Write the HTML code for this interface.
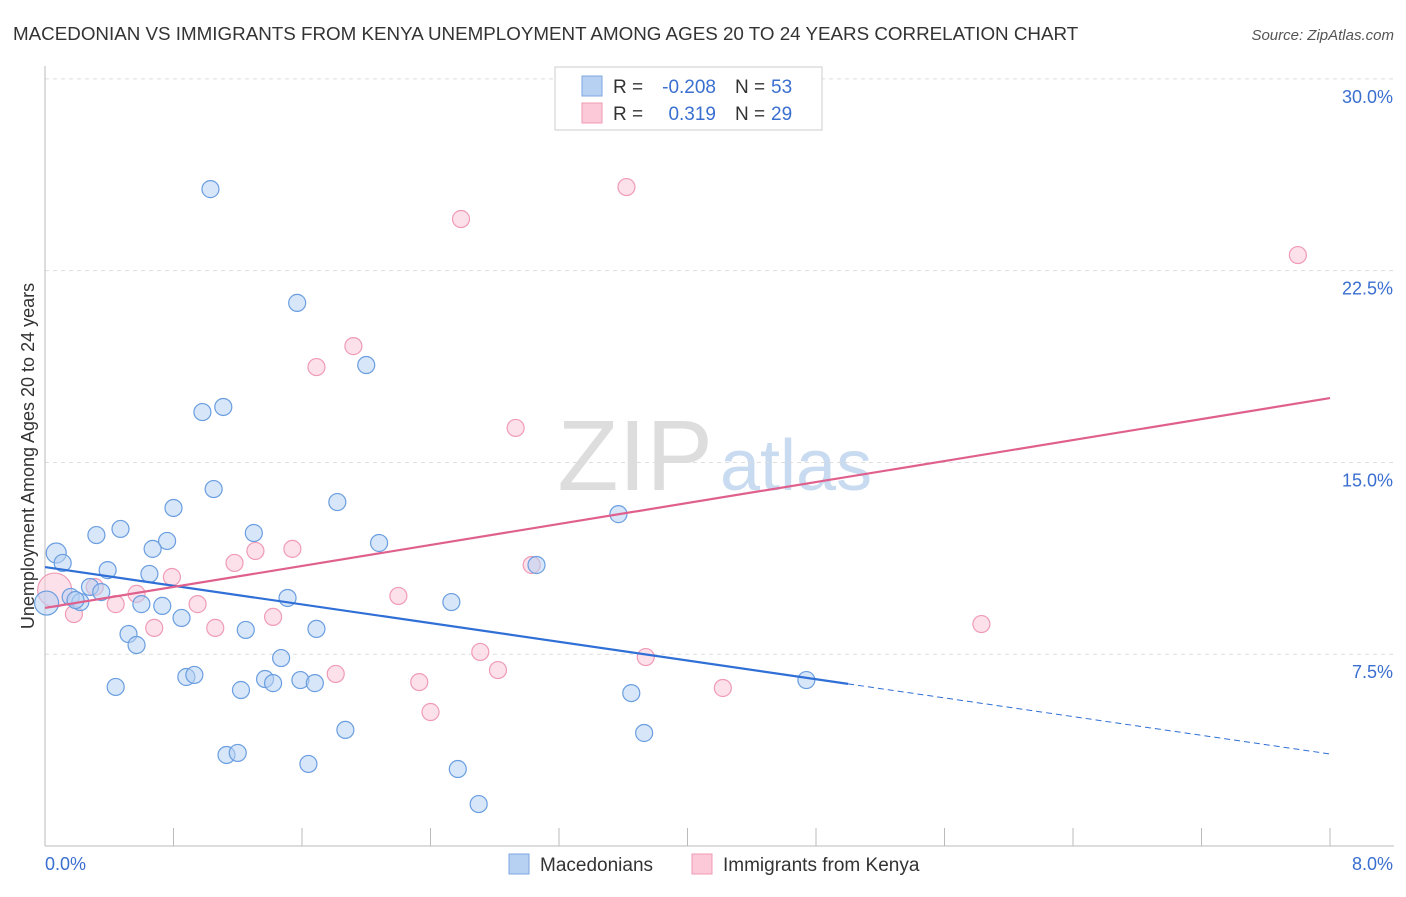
<!DOCTYPE html>
<html><head><meta charset="utf-8">
<style>
body{margin:0;background:#fff;font-family:"Liberation Sans",sans-serif;}
svg text{font-family:"Liberation Sans",sans-serif;}
</style></head>
<body>
<svg id="chart" width="1406" height="892" xmlns="http://www.w3.org/2000/svg">
<text x="13" y="40" font-size="18.8" fill="#333">MACEDONIAN VS IMMIGRANTS FROM KENYA UNEMPLOYMENT AMONG AGES 20 TO 24 YEARS CORRELATION CHART</text>
<text x="1394" y="40" font-size="15" fill="#555" font-style="italic" text-anchor="end">Source: ZipAtlas.com</text>
<text x="713" y="490" font-size="100" fill="#ddd" font-family="Liberation Serif" text-anchor="end">ZIP</text>
<text x="720" y="490" font-size="72" fill="#c9dbf0">atlas</text>
<g id="grid"></g>
<g id="axes"></g>
<g id="marks"></g>
<text transform="translate(34,456) rotate(-90)" font-size="18" fill="#333" text-anchor="middle">Unemployment Among Ages 20 to 24 years</text>
<text x="45" y="870" font-size="18" fill="#3a6fd0">0.0%</text>
<text x="1393" y="870" font-size="18" fill="#3a6fd0" text-anchor="end">8.0%</text>
<g>
<rect x="555" y="67" width="267" height="63" fill="#fff" stroke="#ccc"/>
<rect x="582" y="76" width="20" height="20" fill="#b7d1f3" stroke="#7fa7e0"/>
<rect x="582" y="103" width="20" height="20" fill="#fbc9d8" stroke="#ef9bb5"/>
<text x="613" y="93" font-size="19" fill="#333">R =</text>
<text x="716" y="93" font-size="19" fill="#3a6fd0" text-anchor="end">-0.208</text>
<text x="735" y="93" font-size="19" fill="#333">N =</text>
<text x="771" y="93" font-size="19" fill="#3a6fd0">53</text>
<text x="613" y="120" font-size="19" fill="#333">R =</text>
<text x="716" y="120" font-size="19" fill="#3a6fd0" text-anchor="end">0.319</text>
<text x="735" y="120" font-size="19" fill="#333">N =</text>
<text x="771" y="120" font-size="19" fill="#3a6fd0">29</text>
</g>
<g>
<rect x="509" y="854" width="20" height="20" fill="#b7d1f3" stroke="#7fa7e0"/>
<text x="540" y="871" font-size="19" fill="#333">Macedonians</text>
<rect x="692" y="854" width="20" height="20" fill="#fbc9d8" stroke="#ef9bb5"/>
<text x="723" y="871" font-size="19" fill="#333">Immigrants from Kenya</text>
</g>
</svg>
<script>
const yTicks=[7.5,15,22.5,30];
const yTickLabels=["7.5%","15.0%","22.5%","30.0%"];
const blueX=[1.03,1.57,2.00,0.98,1.11,1.05,1.82,0.80,3.57,0.47,0.32,1.30,0.76,0.67,2.08,0.07,0.11,3.06,0.39,0.65,0.28,0.35,1.51,0.16,0.22,0.60,0.73,2.53,0.85,0.52,1.25,1.69,0.57,1.47,0.44,0.88,0.93,1.37,1.59,1.42,1.68,1.22,4.74,3.65,1.87,3.73,1.13,1.20,1.64,2.57,2.70,0.01,0.19];
const blueY=[25.69,21.24,18.81,16.97,17.17,13.96,13.45,13.22,12.98,12.40,12.16,12.24,11.93,11.62,11.85,11.46,11.07,10.99,10.79,10.64,10.13,9.93,9.70,9.74,9.54,9.46,9.39,9.54,8.92,8.29,8.45,8.49,7.86,7.35,6.22,6.61,6.69,6.53,6.49,6.37,6.37,6.10,6.49,5.98,4.54,4.42,3.56,3.64,3.21,3.01,1.64,9.50,9.62];
const pinkX=[3.62,2.59,7.80,1.92,1.69,2.93,1.31,1.54,1.18,0.79,3.03,0.06,0.31,0.57,0.44,0.95,2.20,0.18,0.68,1.06,1.42,5.83,2.71,3.74,1.81,2.82,2.33,4.22,2.40];
const pinkY=[25.77,24.52,23.11,19.55,18.73,16.35,11.54,11.62,11.07,10.52,10.99,10.01,10.13,9.86,9.46,9.46,9.78,9.07,8.53,8.53,8.96,8.68,7.59,7.39,6.73,6.88,6.41,6.18,5.24];
const blueTrend=[10.91,-0.914];
const pinkTrend=[9.31,1.026];
const blueSolidEnd=5.0;
const X0=45,X1=1330,Y0=846,PY=25.57;
const sx=v=>X0+v/8*(X1-X0);
const sy=v=>Y0-v*PY;
const NS="http://www.w3.org/2000/svg";
function mk(tag,attrs,parent){const e=document.createElementNS(NS,tag);for(const k in attrs)e.setAttribute(k,attrs[k]);parent.appendChild(e);return e;}
const grid=document.getElementById('grid'),axes=document.getElementById('axes'),marks=document.getElementById('marks');
yTicks.forEach((t,i)=>{
  const l=mk('line',{x1:X0,x2:1394,y1:sy(t),y2:sy(t),stroke:'#ddd','stroke-dasharray':'4,4'},grid);
  
  
  const tx=mk('text',{x:1393,y:sy(t)+24,'font-size':18,fill:'#3a6fd0','text-anchor':'end'},axes);
  tx.textContent=yTickLabels[i];
  
  
});
const ya=mk('line',{x1:X0,x2:X0,y1:66,y2:Y0,stroke:'#bbb'},axes);


const xa=mk('line',{x1:X0,x2:1394,y1:Y0,y2:Y0,stroke:'#bbb'},axes);


for(let i=1;i<=10;i++){
  const t=mk('line',{x1:sx(i*0.8),x2:sx(i*0.8),y1:Y0-18,y2:Y0,stroke:'#bbb'},axes);
  
  
}
function dot(x,y,r,fill,stroke,name){
  const c=mk('circle',{cx:sx(x),cy:sy(y),r:r,fill:fill,'fill-opacity':0.55,stroke:stroke,'stroke-width':1.2},marks);
  
  
}
pinkX.forEach((x,i)=>dot(x,pinkY[i],(i===11)?17:8.5,'#fbc9d8','#ef9bb5','kenya-point'));
blueX.forEach((x,i)=>dot(x,blueY[i],(i===51)?12:(i===15?10:8.5),'#b7d1f3','#6a9ee0','macedonian-point'));
const bl=mk('line',{x1:sx(0),y1:sy(blueTrend[0]),x2:sx(blueSolidEnd),y2:sy(blueTrend[0]+blueTrend[1]*blueSolidEnd),stroke:'#2f6fd6','stroke-width':2.2},marks);


const bd=mk('line',{x1:sx(blueSolidEnd),y1:sy(blueTrend[0]+blueTrend[1]*blueSolidEnd),x2:sx(8),y2:sy(blueTrend[0]+blueTrend[1]*8),stroke:'#2f6fd6','stroke-width':1,'stroke-dasharray':'6,4'},marks);


const pl=mk('line',{x1:sx(0),y1:sy(pinkTrend[0]),x2:sx(8),y2:sy(pinkTrend[0]+pinkTrend[1]*8),stroke:'#e0608d','stroke-width':2.2},marks);


</script>
</body></html>
